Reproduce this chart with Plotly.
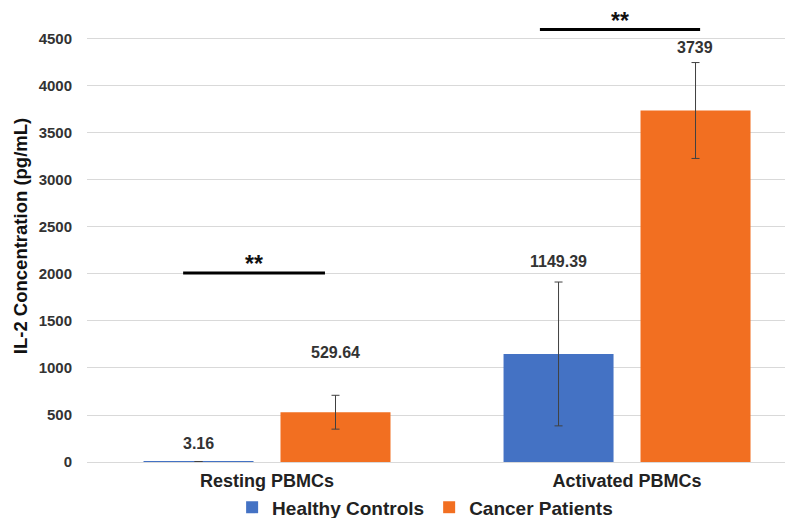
import plotly.graph_objects as go

categories = ["Resting PBMCs", "Activated PBMCs"]
healthy = [3.16, 1149.39]
healthy_err = [0, 765]
cancer = [529.64, 3739]
cancer_err = [180, 510]
healthy_labels = ["3.16", "1149.39"]
cancer_labels = ["529.64", "3739"]
healthy_label_y = [202, 2138]
cancer_label_y = [1170, 4404]
ticks = [0, 500, 1000, 1500, 2000, 2500, 3000, 3500, 4000, 4500]

FONT = "Liberation Sans, Arial, sans-serif"
fig = go.Figure()
fig.add_trace(go.Bar(name="Healthy Controls", x=[0, 1], y=healthy,
                     marker=dict(color="#4472C4", line=dict(width=0)),
                     error_y=dict(type="data", array=healthy_err, color="#404040", thickness=1, width=4)))
fig.add_trace(go.Bar(name="Cancer Patients", x=[0, 1], y=cancer,
                     marker=dict(color="#F26F21", line=dict(width=0)),
                     error_y=dict(type="data", array=cancer_err, color="#404040", thickness=1, width=4)))

off = 0.19  # group offset in category units
lab_font = dict(family=FONT, size=16, color="#333333", weight="bold")
for i in range(2):
    fig.add_annotation(x=i - off, y=healthy_label_y[i], text=healthy_labels[i], showarrow=False,
                       yanchor="middle", font=lab_font)
    fig.add_annotation(x=i + off, y=cancer_label_y[i], text=cancer_labels[i], showarrow=False,
                       yanchor="middle", font=lab_font)

sig = [(-0.233, 0.161, 2010), (0.758, 1.203, 4600)]
for x0, x1, yv in sig:
    fig.add_shape(type="line", x0=x0, x1=x1, y0=yv, y1=yv, xref="x", yref="y",
                  line=dict(color="black", width=3))
    fig.add_annotation(x=(x0 + x1) / 2, y=yv, text="**", showarrow=False, yanchor="bottom", yshift=-6,
                       font=dict(family=FONT, size=23, color="#111111", weight="bold"))

# page body has an 8px margin: offsets below compensate so the plot lands where the reference has it
fig.update_layout(
    width=793, height=518,
    margin=dict(l=79, r=8, t=2, b=64, autoexpand=False),
    plot_bgcolor="white", paper_bgcolor="white",
    barmode="group", bargap=0.239, bargroupgap=0.197,
    font=dict(family=FONT, color="#333333"),
    showlegend=True,
    legend=dict(orientation="h", xref="container", yref="container", x=0.526, y=0.036,
                xanchor="center", yanchor="middle",
                font=dict(family=FONT, size=19, color="#222222", weight="bold"),
                tracegroupgap=0, bgcolor="rgba(0,0,0,0)"),
    xaxis=dict(range=[-0.5, 1.461], tickmode="array", tickvals=[0, 1], ticktext=categories,
               showgrid=False, zeroline=False, showline=False, ticks="", automargin=False,
               ticklabelstandoff=6,
               tickfont=dict(family=FONT, size=18, color="#222222", weight="bold")),
    yaxis=dict(range=[0, 4808], tickmode="array", tickvals=ticks, ticktext=[str(t) for t in ticks],
               showgrid=True, gridcolor="#d9d9d9", gridwidth=1, zeroline=True, zerolinecolor="#d9d9d9",
               zerolinewidth=1, showline=False, ticks="", ticklabelstandoff=14, automargin=False,
               tickfont=dict(family=FONT, size=15, color="#333333", weight="bold"),
               title=dict(text="IL-2 Concentration (pg/mL)", standoff=6,
                          font=dict(family=FONT, size=18.5, color="#111111", weight="bold"))),
)
fig.write_html("out.html")
